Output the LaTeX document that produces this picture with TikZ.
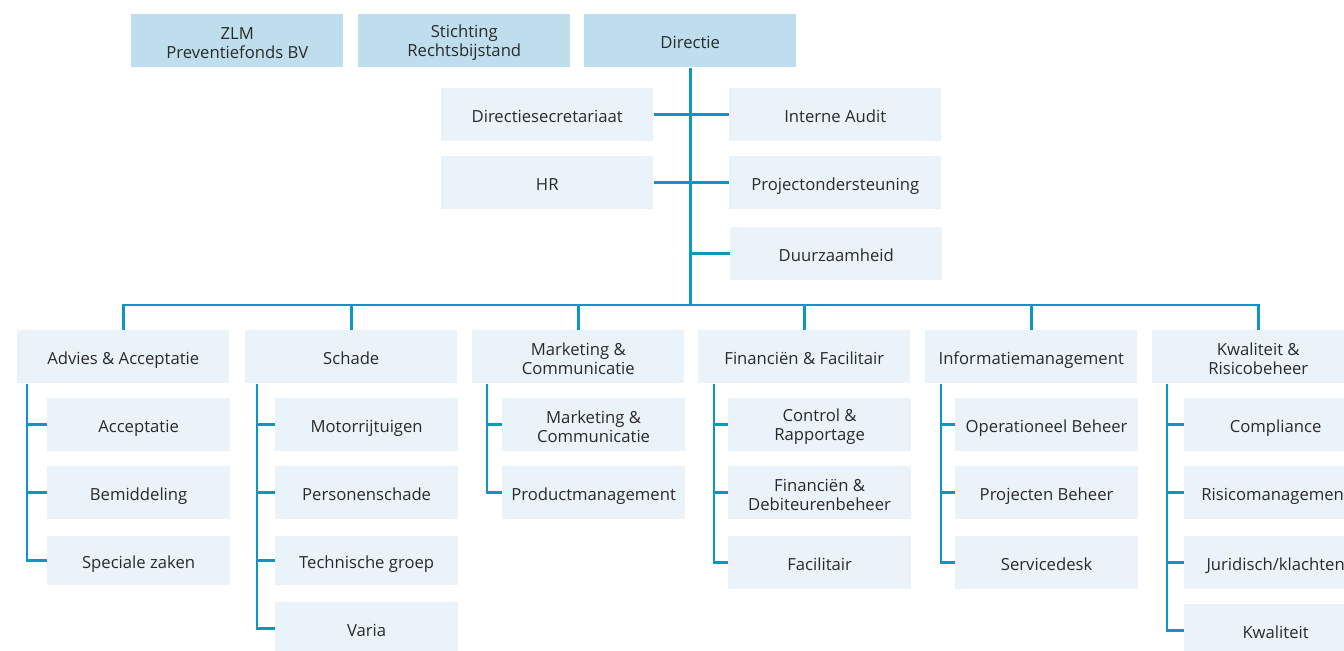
\documentclass[tikz,border=0pt]{standalone}
\usepackage{fontspec}
\setmainfont{Open Sans}
\definecolor{topblue}{HTML}{BEDEED}
\definecolor{boxblue}{HTML}{EAF3F9}
\definecolor{linkblue}{HTML}{0E96C3}
\definecolor{txt}{HTML}{2A2A2A}
\newcommand\fpad{\rule{0pt}{12pt}}
\begin{document}
\begin{tikzpicture}[x=0.75pt,y=-0.75pt,
  box/.style={fill=boxblue, inner sep=0pt, anchor=north west, minimum height=39.75pt,
    minimum width=159pt, text=txt, align=center, font=\fontsize{12.5}{14.2}\selectfont,
    text height=12pt, text depth=0.4pt},
  two/.style={text height={}, text depth={}},
  topbox/.style={box, fill=topblue},
  head/.style={box},
  sub/.style={box, minimum width=137pt},
  subshort/.style={sub, minimum height=36.75pt},
  link/.style={draw=linkblue, line width=2pt}]
\useasboundingbox (0,0) rectangle (1344,650);
\clip (0,0) rectangle (1344,650);

% top row
\node[topbox, two] (zlm) at (131,14) {\fpad ZLM\\Preventiefonds BV};
\node[topbox, two] (sra) at (358,14) {\fpad Stichting\\Rechtsbijstand};
\node[topbox] (dir) at (584,14) {Directie};

% staff
\node[box] (dsec) at (441,88) {Directiesecretariaat};
\node[box] (hr) at (441,156) {HR};
\node[box] (audit) at (729,88) {Interne Audit};
\node[box] (proj) at (729,156) {Projectondersteuning};
\node[box] (duur) at (730,227) {Duurzaamheid};

% heads
\node[head] (h1) at (17,330) {Advies \& Acceptatie};
\node[head] (h2) at (245,330) {Schade};
\node[head, two] (h3) at (472,330) {\fpad Marketing \&\\Communicatie};
\node[head] (h4) at (698,330) {Financiën \& Facilitair};
\node[head] (h5) at (925,330) {Informatiemanagement};
\node[head, two] (h6) at (1152,330) {\fpad Kwaliteit \&\\Risicobeheer};

% subs column 1
\node[sub] (s11) at (47,398) {Acceptatie};
\node[sub] (s12) at (47,466) {Bemiddeling};
\node[subshort] (s13) at (47,536) {Speciale zaken};
% column 2
\node[sub] (s21) at (275,398) {Motorrijtuigen};
\node[sub] (s22) at (275,466) {Personenschade};
\node[subshort] (s23) at (275,536) {Technische groep};
\node[sub] (s24) at (275,602) {Varia};
% column 3
\node[sub, two] (s31) at (502,398) {\fpad Marketing \&\\Communicatie};
\node[sub] (s32) at (502,466) {Productmanagement};
% column 4
\node[sub, two] (s41) at (728,398) {\fpad Control \&\\Rapportage};
\node[sub, two] (s42) at (728,466) {\fpad Financiën \&\\Debiteurenbeheer};
\node[sub] (s43) at (728,536) {Facilitair};
% column 5
\node[sub] (s51) at (955,398) {Operationeel Beheer};
\node[sub] (s52) at (955,466) {Projecten Beheer};
\node[sub] (s53) at (955,536) {Servicedesk};
% column 6
\node[sub] (s61) at (1184,398) {Compliance};
\node[sub] (s62) at (1184,466) {Risicomanagement};
\node[sub] (s63) at (1184,536) {Juridisch/klachten};
\node[sub] (s64) at (1184,604) {Kwaliteit};

% main spine and bus
\coordinate (bus) at (690,305);
\draw[link] (dir.south) -- (dir.south |- bus);
\draw[link] (dsec.east) -- (dsec.east -| dir.south);
\draw[link] (hr.east) -- (hr.east -| dir.south);
\draw[link] (audit.west) -- (audit.west -| dir.south);
\draw[link] (proj.west) -- (proj.west -| dir.south);
\draw[link] (duur.west) -- (duur.west -| dir.south);
\draw[link] (h1.north) -- (h1.north |- bus) -- (h6.north |- bus) -- (h6.north);
\foreach \h in {h2,h3,h4,h5}
  \draw[link] (\h.north) -- (\h.north |- bus);

% column lines
\coordinate (c1) at (27,0);
\coordinate (c2) at (257,0);
\coordinate (c3) at (487,0);
\coordinate (c4) at (714,0);
\coordinate (c5) at (941,0);
\coordinate (c6) at (1167,0);
\draw[link] (c1 |- h1.south) -- (c1 |- s13.west) -- (s13.west);
\draw[link] (c2 |- h2.south) -- (c2 |- s24.west) -- (s24.west);
\draw[link] (c3 |- h3.south) -- (c3 |- s32.west) -- (s32.west);
\draw[link] (c4 |- h4.south) -- (c4 |- s43.west) -- (s43.west);
\draw[link] (c5 |- h5.south) -- (c5 |- s53.west) -- (s53.west);
\draw[link] (c6 |- h6.south) -- (c6 |- s64.west) -- (s64.west);
\draw[link] (s11.west) -- (s11.west -| c1);
\draw[link] (s12.west) -- (s12.west -| c1);
\draw[link] (s21.west) -- (s21.west -| c2);
\draw[link] (s22.west) -- (s22.west -| c2);
\draw[link] (s23.west) -- (s23.west -| c2);
\draw[link] (s31.west) -- (s31.west -| c3);
\draw[link] (s41.west) -- (s41.west -| c4);
\draw[link] (s42.west) -- (s42.west -| c4);
\draw[link] (s51.west) -- (s51.west -| c5);
\draw[link] (s52.west) -- (s52.west -| c5);
\draw[link] (s61.west) -- (s61.west -| c6);
\draw[link] (s62.west) -- (s62.west -| c6);
\draw[link] (s63.west) -- (s63.west -| c6);
\end{tikzpicture}
\end{document}
